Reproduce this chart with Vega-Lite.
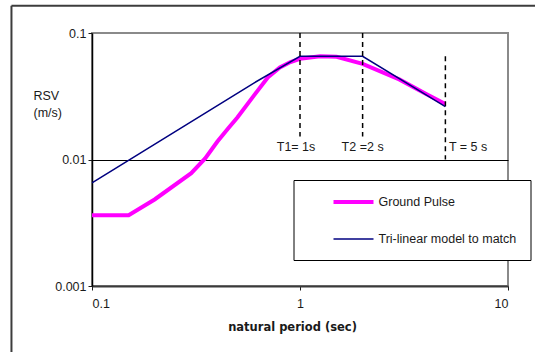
{
  "$schema": "https://vega.github.io/schema/vega-lite/v6.json",
  "width": 416,
  "height": 253,
  "autosize": "none",
  "padding": {"left": 92, "top": 33, "right": 27, "bottom": 66},
  "background": "white",
  "config": {
    "font": "Liberation Sans",
    "view": {"stroke": "#8a8a8a", "strokeWidth": 2},
    "axis": {
      "labelFont": "Liberation Sans",
      "labelFontSize": 12.5,
      "labelColor": "#1a1a1a",
      "tickColor": "#1a1a1a",
      "tickSize": 4,
      "domainWidth": 1.5
    }
  },
  "datasets": {
    "spectra": [
      {"series": "Ground Pulse", "period": 0.1, "rsv": 0.00362},
      {"series": "Ground Pulse", "period": 0.15, "rsv": 0.00362},
      {"series": "Ground Pulse", "period": 0.2, "rsv": 0.00483},
      {"series": "Ground Pulse", "period": 0.3, "rsv": 0.0078},
      {"series": "Ground Pulse", "period": 0.35, "rsv": 0.0102},
      {"series": "Ground Pulse", "period": 0.4, "rsv": 0.0138},
      {"series": "Ground Pulse", "period": 0.45, "rsv": 0.0175},
      {"series": "Ground Pulse", "period": 0.5, "rsv": 0.0215},
      {"series": "Ground Pulse", "period": 0.6, "rsv": 0.032},
      {"series": "Ground Pulse", "period": 0.7, "rsv": 0.0445},
      {"series": "Ground Pulse", "period": 0.8, "rsv": 0.0535},
      {"series": "Ground Pulse", "period": 0.9, "rsv": 0.059},
      {"series": "Ground Pulse", "period": 1.0, "rsv": 0.0625},
      {"series": "Ground Pulse", "period": 1.25, "rsv": 0.0655},
      {"series": "Ground Pulse", "period": 1.5, "rsv": 0.0648},
      {"series": "Ground Pulse", "period": 2, "rsv": 0.057},
      {"series": "Ground Pulse", "period": 3, "rsv": 0.043},
      {"series": "Ground Pulse", "period": 4, "rsv": 0.0333},
      {"series": "Ground Pulse", "period": 5, "rsv": 0.0275},
      {"series": "Tri-linear model to match", "period": 0.1, "rsv": 0.00654},
      {"series": "Tri-linear model to match", "period": 0.6, "rsv": 0.0402},
      {"series": "Tri-linear model to match", "period": 1, "rsv": 0.0654},
      {"series": "Tri-linear model to match", "period": 2, "rsv": 0.0654},
      {"series": "Tri-linear model to match", "period": 5, "rsv": 0.0262}
    ],
    "periods": [
      {"period": 1, "top": 0.1, "bottom": 0.0152, "label": "T1= 1s", "labelAt": 0.773},
      {"period": 2, "top": 0.1, "bottom": 0.0152, "label": "T2 =2 s", "labelAt": 1.585},
      {"period": 5, "top": 0.0654, "bottom": 0.01, "label": "T = 5 s", "labelAt": 5.2}
    ]
  },
  "layer": [
    {
      "description": "chart-area frame, left edge",
      "data": {"values": [{}]},
      "mark": {"type": "rule", "color": "#3c3c3c", "strokeWidth": 2, "clip": false},
      "encoding": {
        "x": {"datum": 0.041, "type": "quantitative", "scale": {"type": "log", "domain": [0.1, 10], "clamp": false}},
        "y": {"datum": 0.1643, "type": "quantitative", "scale": {"type": "log", "domain": [0.001, 0.1], "clamp": false}},
        "y2": {"datum": 0.0001}
      }
    },
    {
      "description": "chart-area frame, top edge",
      "data": {"values": [{}]},
      "mark": {"type": "rule", "color": "#3c3c3c", "strokeWidth": 2, "clip": false},
      "encoding": {
        "x": {"datum": 0.041, "type": "quantitative"},
        "x2": {"datum": 50},
        "y": {"datum": 0.1643, "type": "quantitative"}
      }
    },
    {
      "data": {"name": "spectra"},
      "mark": {"type": "line", "clip": true},
      "encoding": {
        "x": {
          "field": "period",
          "type": "quantitative",
          "scale": {"type": "log", "domain": [0.1, 10], "clamp": false},
          "axis": {
            "values": [0.1, 1, 10],
            "format": "~g",
            "title": "natural period (sec)",
            "titleFont": "DejaVu Sans",
            "titleFontWeight": "bold",
            "titleFontSize": 11.5,
            "titleColor": "#1a1a1a",
            "titleX": 200,
            "titleY": 44,
            "titleBaseline": "alphabetic",
            "labelPadding": 7,
            "domainColor": "#3a3a3a",
            "domainWidth": 2,
            "grid": false
          }
        },
        "y": {
          "field": "rsv",
          "type": "quantitative",
          "scale": {"type": "log", "domain": [0.001, 0.1], "clamp": false},
          "axis": {
            "values": [0.001, 0.01, 0.1],
            "format": "~g",
            "title": ["RSV", "(m/s)"],
            "titleFont": "Liberation Sans",
            "titleFontWeight": "normal",
            "titleFontSize": 12.5,
            "titleColor": "#1a1a1a",
            "titleAngle": 0,
            "titleAlign": "left",
            "titleBaseline": "alphabetic",
            "titleLineHeight": 17,
            "titleX": -59,
            "titleY": 66,
            "labelPadding": 2,
            "domainColor": "black",
            "grid": true,
            "gridColor": {"condition": {"test": "datum.value === 0.01", "value": "black"}, "value": "transparent"},
            "gridWidth": 1
          }
        },
        "color": {
          "field": "series",
          "type": "nominal",
          "scale": {"domain": ["Ground Pulse", "Tri-linear model to match"], "range": ["#ff00ff", "#000080"]},
          "legend": {
            "title": null,
            "orient": "none",
            "legendX": 201.5,
            "legendY": 147,
            "direction": "vertical",
            "fillColor": "white",
            "strokeColor": "black",
            "padding": 14,
            "symbolOffset": 38,
            "symbolType": "M-3.333,0H3.333",
            "symbolSize": 144,
            "labelFont": "Liberation Sans",
            "labelFontSize": 12.5,
            "labelColor": "#1a1a1a",
            "labelOffset": 17,
            "labelLimit": 400,
            "labelExpr": "datum.label + '          '",
            "rowPadding": 22
          }
        },
        "strokeWidth": {
          "field": "series",
          "type": "nominal",
          "scale": {"domain": ["Ground Pulse", "Tri-linear model to match"], "range": [4, 1.5]},
          "legend": null
        }
      }
    },
    {
      "data": {"name": "periods"},
      "mark": {"type": "rule", "color": "black", "strokeWidth": 1.5, "strokeDash": [5, 4]},
      "encoding": {
        "x": {"field": "period", "type": "quantitative"},
        "y": {"field": "top", "type": "quantitative"},
        "y2": {"field": "bottom"}
      }
    },
    {
      "data": {"name": "periods"},
      "mark": {"type": "text", "align": "left", "baseline": "middle", "fontSize": 12.5, "color": "#1a1a1a", "dy": 1},
      "encoding": {
        "x": {"field": "labelAt", "type": "quantitative"},
        "y": {"datum": 0.0127, "type": "quantitative"},
        "text": {"field": "label"}
      }
    }
  ]
}
